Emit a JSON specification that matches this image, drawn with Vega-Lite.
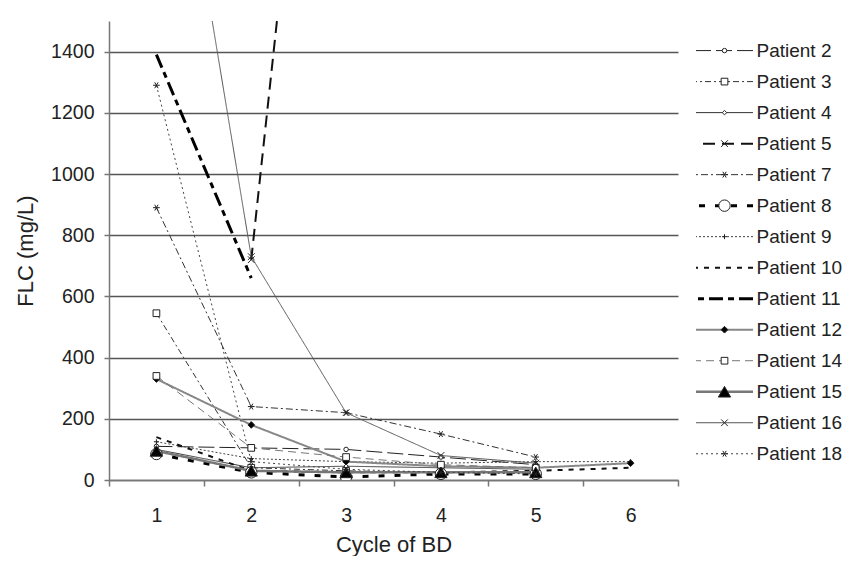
{
  "$schema": "https://vega.github.io/schema/vega-lite/v6.json",
  "padding": {"left": 14, "top": 21, "right": 0, "bottom": 0},
  "background": "white",
  "config": {
    "font": "Liberation Sans",
    "view": {"stroke": null},
    "concat": {"spacing": 15},
    "axis": {"labelFont": "Liberation Sans", "titleFont": "Liberation Sans", "labelColor": "#222", "titleColor": "#222", "titleFontWeight": "normal"}
  },
  "datasets": {
    "flc": [
      {"patient": "Patient 2", "cycle": 1, "flc": 110}, {"patient": "Patient 2", "cycle": 2, "flc": 105}, {"patient": "Patient 2", "cycle": 3, "flc": 100}, {"patient": "Patient 2", "cycle": 4, "flc": 75}, {"patient": "Patient 2", "cycle": 5, "flc": 50},
      {"patient": "Patient 3", "cycle": 1, "flc": 545}, {"patient": "Patient 3", "cycle": 2, "flc": 40}, {"patient": "Patient 3", "cycle": 3, "flc": 30}, {"patient": "Patient 3", "cycle": 4, "flc": 25}, {"patient": "Patient 3", "cycle": 5, "flc": 25},
      {"patient": "Patient 4", "cycle": 1, "flc": 100}, {"patient": "Patient 4", "cycle": 2, "flc": 40}, {"patient": "Patient 4", "cycle": 3, "flc": 45}, {"patient": "Patient 4", "cycle": 4, "flc": 40}, {"patient": "Patient 4", "cycle": 5, "flc": 35},
      {"patient": "Patient 5", "cycle": 2, "flc": 720}, {"patient": "Patient 5", "cycle": 3, "flc": 3600},
      {"patient": "Patient 7", "cycle": 1, "flc": 890}, {"patient": "Patient 7", "cycle": 2, "flc": 240}, {"patient": "Patient 7", "cycle": 3, "flc": 220}, {"patient": "Patient 7", "cycle": 4, "flc": 150}, {"patient": "Patient 7", "cycle": 5, "flc": 75},
      {"patient": "Patient 8", "cycle": 1, "flc": 85}, {"patient": "Patient 8", "cycle": 2, "flc": 25}, {"patient": "Patient 8", "cycle": 3, "flc": 10}, {"patient": "Patient 8", "cycle": 4, "flc": 20}, {"patient": "Patient 8", "cycle": 5, "flc": 20},
      {"patient": "Patient 9", "cycle": 1, "flc": 125}, {"patient": "Patient 9", "cycle": 2, "flc": 70}, {"patient": "Patient 9", "cycle": 3, "flc": 60}, {"patient": "Patient 9", "cycle": 4, "flc": 55}, {"patient": "Patient 9", "cycle": 5, "flc": 60}, {"patient": "Patient 9", "cycle": 6, "flc": 60},
      {"patient": "Patient 10", "cycle": 1, "flc": 140}, {"patient": "Patient 10", "cycle": 2, "flc": 30}, {"patient": "Patient 10", "cycle": 3, "flc": 25}, {"patient": "Patient 10", "cycle": 4, "flc": 25}, {"patient": "Patient 10", "cycle": 5, "flc": 30}, {"patient": "Patient 10", "cycle": 6, "flc": 40},
      {"patient": "Patient 11", "cycle": 1, "flc": 1390}, {"patient": "Patient 11", "cycle": 2, "flc": 660},
      {"patient": "Patient 12", "cycle": 1, "flc": 330}, {"patient": "Patient 12", "cycle": 2, "flc": 180}, {"patient": "Patient 12", "cycle": 3, "flc": 60}, {"patient": "Patient 12", "cycle": 4, "flc": 45}, {"patient": "Patient 12", "cycle": 5, "flc": 40}, {"patient": "Patient 12", "cycle": 6, "flc": 55},
      {"patient": "Patient 14", "cycle": 1, "flc": 340}, {"patient": "Patient 14", "cycle": 2, "flc": 105}, {"patient": "Patient 14", "cycle": 3, "flc": 75}, {"patient": "Patient 14", "cycle": 4, "flc": 50}, {"patient": "Patient 14", "cycle": 5, "flc": 40},
      {"patient": "Patient 15", "cycle": 1, "flc": 95}, {"patient": "Patient 15", "cycle": 2, "flc": 30}, {"patient": "Patient 15", "cycle": 3, "flc": 25}, {"patient": "Patient 15", "cycle": 4, "flc": 25}, {"patient": "Patient 15", "cycle": 5, "flc": 25},
      {"patient": "Patient 16", "cycle": 1, "flc": 2600}, {"patient": "Patient 16", "cycle": 2, "flc": 730}, {"patient": "Patient 16", "cycle": 3, "flc": 220}, {"patient": "Patient 16", "cycle": 4, "flc": 80}, {"patient": "Patient 16", "cycle": 5, "flc": 55},
      {"patient": "Patient 18", "cycle": 1, "flc": 1290}, {"patient": "Patient 18", "cycle": 2, "flc": 60}, {"patient": "Patient 18", "cycle": 3, "flc": 35}, {"patient": "Patient 18", "cycle": 4, "flc": 25}, {"patient": "Patient 18", "cycle": 5, "flc": 20}
    ],
    "patients": [
      {"patient": "Patient 2"}, {"patient": "Patient 3"}, {"patient": "Patient 4"}, {"patient": "Patient 5"}, {"patient": "Patient 7"}, {"patient": "Patient 8"}, {"patient": "Patient 9"},
      {"patient": "Patient 10"}, {"patient": "Patient 11"}, {"patient": "Patient 12"}, {"patient": "Patient 14"}, {"patient": "Patient 15"}, {"patient": "Patient 16"}, {"patient": "Patient 18"}
    ]
  },
  "hconcat": [
    {
      "width": 569,
      "height": 459,
      "data": {"name": "flc"},
      "encoding": {
        "x": {"field": "cycle", "type": "quantitative", "title": "Cycle of BD",
          "scale": {"domain": [0.5, 6.5], "nice": false, "zero": false},
          "axis": {"values": [0.5, 1, 1.5, 2, 2.5, 3, 3.5, 4, 4.5, 5, 5.5, 6, 6.5],
            "labelExpr": "datum.value % 1 === 0 ? format(datum.value, 'd') : ''",
            "tickOpacity": {"condition": {"test": "datum.value % 1 !== 0", "value": 1}, "value": 0},
            "grid": false, "domainColor": "#777", "domainWidth": 1.5, "tickColor": "#777", "tickWidth": 1.5, "tickSize": 6,
            "labelFontSize": 19.5, "labelPadding": 20, "titleFontSize": 22, "titlePadding": 10, "labelFlush": false}},
        "y": {"field": "flc", "type": "quantitative", "title": "FLC (mg/L)",
          "scale": {"domain": [0, 1500], "nice": false, "zero": true},
          "axis": {"values": [0, 200, 400, 600, 800, 1000, 1200, 1400], "format": "d", "grid": true, "gridColor": "#555", "gridWidth": 1.5,
            "domainColor": "#777", "domainWidth": 1.5, "tickColor": "#777", "tickWidth": 1.5, "tickSize": 5,
            "labelFontSize": 19.5, "labelPadding": 10, "titleFontSize": 22, "titlePadding": 13}}
      },
      "layer": [
        {
          "mark": {"type": "line", "clip": true},
          "encoding": {
            "stroke": {"field": "patient", "type": "nominal", "legend": null,
              "scale": {"domain": ["Patient 2", "Patient 3", "Patient 4", "Patient 5", "Patient 7", "Patient 8", "Patient 9", "Patient 10", "Patient 11", "Patient 12", "Patient 14", "Patient 15", "Patient 16", "Patient 18"],
                "range": ["#222", "#333", "#333", "#111", "#333", "#000", "#444", "#111", "#000", "#888", "#777", "#777", "#555", "#444"]}},
            "strokeDash": {"field": "patient", "type": "nominal", "legend": null,
              "scale": {"domain": ["Patient 2", "Patient 3", "Patient 4", "Patient 5", "Patient 7", "Patient 8", "Patient 9", "Patient 10", "Patient 11", "Patient 12", "Patient 14", "Patient 15", "Patient 16", "Patient 18"],
                "range": [[16, 5], [6, 3, 2, 3], [1, 0], [12, 7], [7, 3, 2, 3], [6, 10], [2, 2], [5, 6], [14, 5, 6, 5], [1, 0], [8, 5], [1, 0], [1, 0], [2, 3]]}},
            "strokeWidth": {"condition": [
              {"test": "datum.patient === 'Patient 8' || datum.patient === 'Patient 11'", "value": 3},
              {"test": "datum.patient === 'Patient 15'", "value": 2.5},
              {"test": "datum.patient === 'Patient 5' || datum.patient === 'Patient 10' || datum.patient === 'Patient 12'", "value": 2}
            ], "value": 1}
          }
        },
        {
          "mark": {"type": "point", "clip": true, "filled": false, "opacity": 1, "stroke": "#222", "strokeWidth": 1},
          "encoding": {
            "shape": {"field": "patient", "type": "nominal", "legend": null,
              "scale": {"domain": ["Patient 2", "Patient 3", "Patient 4", "Patient 5", "Patient 7", "Patient 8", "Patient 9", "Patient 10", "Patient 11", "Patient 12", "Patient 14", "Patient 15", "Patient 16", "Patient 18"],
                "range": ["circle", "square", "diamond", "M-1,-1L1,1M-1,1L1,-1", "M-1,0L1,0M-0.5,-0.87L0.5,0.87M-0.5,0.87L0.5,-0.87", "circle", "M-1,0L1,0M0,-1L0,1", "M0,0", "M0,0", "diamond", "square", "triangle-up", "M-1,-1L1,1M-1,1L1,-1", "M-1,0L1,0M-0.5,-0.87L0.5,0.87M-0.5,0.87L0.5,-0.87"]}},
            "fill": {"field": "patient", "type": "nominal", "legend": null,
              "scale": {"domain": ["Patient 2", "Patient 3", "Patient 4", "Patient 5", "Patient 7", "Patient 8", "Patient 9", "Patient 10", "Patient 11", "Patient 12", "Patient 14", "Patient 15", "Patient 16", "Patient 18"],
                "range": ["white", "white", "white", "white", "white", "white", "black", "white", "white", "black", "white", "black", "white", "white"]}},
            "size": {"condition": [
              {"test": "datum.patient === 'Patient 10' || datum.patient === 'Patient 11'", "value": 0},
              {"test": "datum.patient === 'Patient 8'", "value": 130},
              {"test": "datum.patient === 'Patient 15'", "value": 150},
              {"test": "datum.patient === 'Patient 2' || datum.patient === 'Patient 4'", "value": 20},
              {"test": "datum.patient === 'Patient 9'", "value": 25}
            ], "value": 45}
          }
        }
      ]
    },
    {
      "width": 57,
      "height": 459,
      "data": {"name": "patients"},
      "encoding": {
        "y": {"field": "patient", "type": "nominal",
          "sort": ["Patient 2", "Patient 3", "Patient 4", "Patient 5", "Patient 7", "Patient 8", "Patient 9", "Patient 10", "Patient 11", "Patient 12", "Patient 14", "Patient 15", "Patient 16", "Patient 18"],
          "scale": {"type": "point", "padding": 0.9, "align": 0.53},
          "axis": {"orient": "right", "title": null, "domain": false, "ticks": false, "grid": false, "labelPadding": 3, "labelFontSize": 19, "labelColor": "#222"}}
      },
      "layer": [
        {
          "mark": {"type": "rule"},
          "encoding": {
            "stroke": {"field": "patient", "type": "nominal", "legend": null,
              "scale": {"domain": ["Patient 2", "Patient 3", "Patient 4", "Patient 5", "Patient 7", "Patient 8", "Patient 9", "Patient 10", "Patient 11", "Patient 12", "Patient 14", "Patient 15", "Patient 16", "Patient 18"],
                "range": ["#222", "#333", "#333", "#111", "#333", "#000", "#444", "#111", "#000", "#888", "#777", "#777", "#555", "#444"]}},
            "strokeDash": {"field": "patient", "type": "nominal", "legend": null,
              "scale": {"domain": ["Patient 2", "Patient 3", "Patient 4", "Patient 5", "Patient 7", "Patient 8", "Patient 9", "Patient 10", "Patient 11", "Patient 12", "Patient 14", "Patient 15", "Patient 16", "Patient 18"],
                "range": [[16, 5], [6, 3, 2, 3], [1, 0], [12, 7], [7, 3, 2, 3], [6, 10], [2, 2], [5, 6], [14, 5, 6, 5], [1, 0], [8, 5], [1, 0], [1, 0], [2, 3]]}},
            "strokeWidth": {"condition": [
              {"test": "datum.patient === 'Patient 8' || datum.patient === 'Patient 11'", "value": 3},
              {"test": "datum.patient === 'Patient 15'", "value": 2.5},
              {"test": "datum.patient === 'Patient 5' || datum.patient === 'Patient 10' || datum.patient === 'Patient 12'", "value": 2}
            ], "value": 1}
          }
        },
        {
          "mark": {"type": "point", "filled": false, "opacity": 1, "stroke": "#222", "strokeWidth": 1},
          "encoding": {
            "shape": {"field": "patient", "type": "nominal", "legend": null,
              "scale": {"domain": ["Patient 2", "Patient 3", "Patient 4", "Patient 5", "Patient 7", "Patient 8", "Patient 9", "Patient 10", "Patient 11", "Patient 12", "Patient 14", "Patient 15", "Patient 16", "Patient 18"],
                "range": ["circle", "square", "diamond", "M-1,-1L1,1M-1,1L1,-1", "M-1,0L1,0M-0.5,-0.87L0.5,0.87M-0.5,0.87L0.5,-0.87", "circle", "M-1,0L1,0M0,-1L0,1", "M0,0", "M0,0", "diamond", "square", "triangle-up", "M-1,-1L1,1M-1,1L1,-1", "M-1,0L1,0M-0.5,-0.87L0.5,0.87M-0.5,0.87L0.5,-0.87"]}},
            "fill": {"field": "patient", "type": "nominal", "legend": null,
              "scale": {"domain": ["Patient 2", "Patient 3", "Patient 4", "Patient 5", "Patient 7", "Patient 8", "Patient 9", "Patient 10", "Patient 11", "Patient 12", "Patient 14", "Patient 15", "Patient 16", "Patient 18"],
                "range": ["white", "white", "white", "white", "white", "white", "black", "white", "white", "black", "white", "black", "white", "white"]}},
            "size": {"condition": [
              {"test": "datum.patient === 'Patient 10' || datum.patient === 'Patient 11'", "value": 0},
              {"test": "datum.patient === 'Patient 8'", "value": 130},
              {"test": "datum.patient === 'Patient 15'", "value": 150},
              {"test": "datum.patient === 'Patient 2' || datum.patient === 'Patient 4'", "value": 20},
              {"test": "datum.patient === 'Patient 9'", "value": 25}
            ], "value": 45}
          }
        }
      ]
    }
  ]
}
